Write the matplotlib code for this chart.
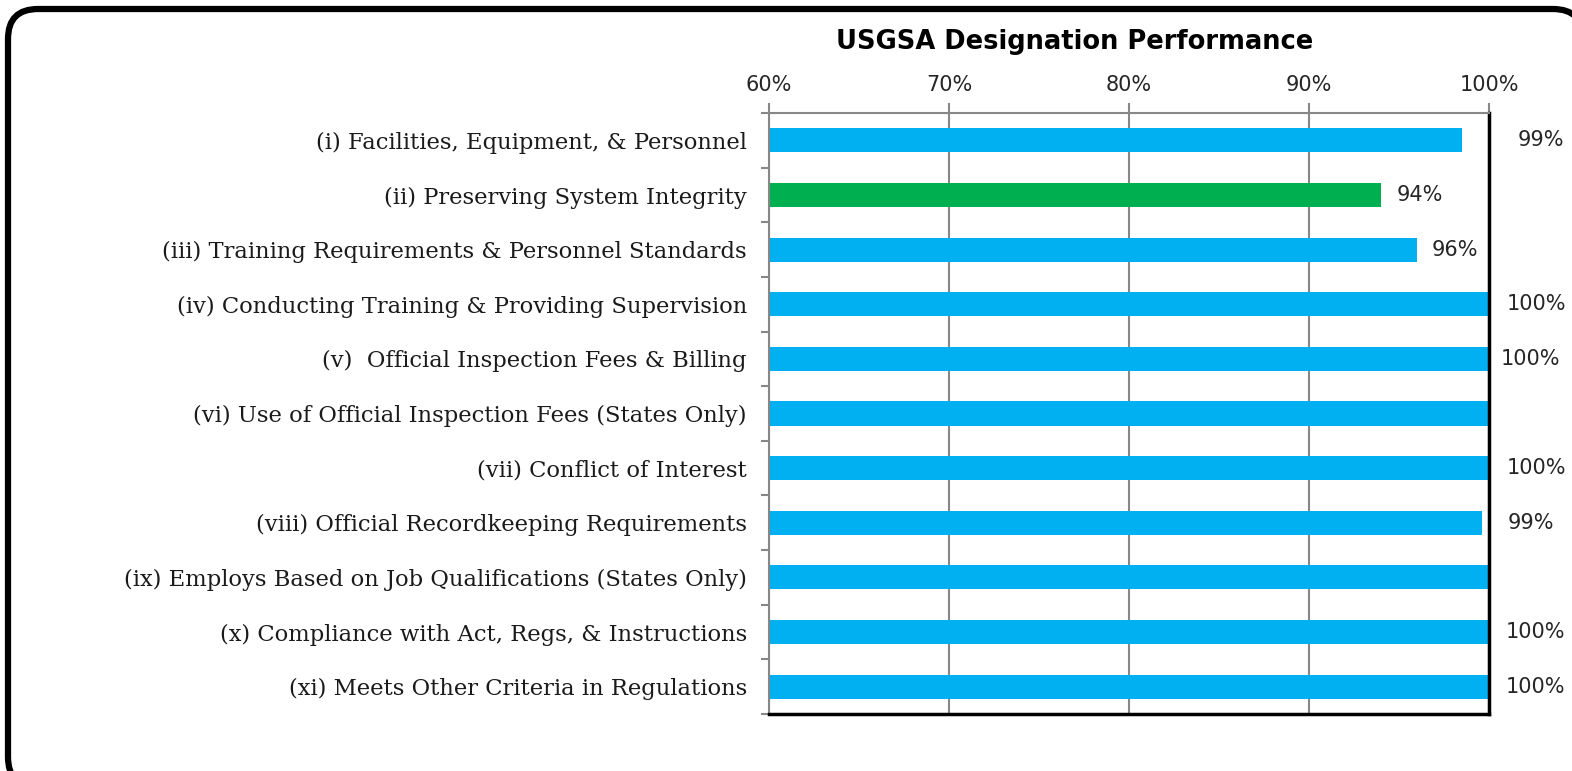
import numpy as np
import matplotlib
matplotlib.use("Agg")
import matplotlib.pyplot as plt
from matplotlib.patches import FancyBboxPatch
from matplotlib.ticker import FixedLocator, PercentFormatter

# chart data
categories = [
    "(i) Facilities, Equipment, & Personnel",
    "(ii) Preserving System Integrity",
    "(iii) Training Requirements & Personnel Standards",
    "(iv) Conducting Training & Providing Supervision",
    "(v)  Official Inspection Fees & Billing",
    "(vi) Use of Official Inspection Fees (States Only)",
    "(vii) Conflict of Interest",
    "(viii) Official Recordkeeping Requirements",
    "(ix) Employs Based on Job Qualifications (States Only)",
    "(x) Compliance with Act, Regs, & Instructions",
    "(xi) Meets Other Criteria in Regulations",
]
values = [98.5, 94.0, 96.0, 100, 100, 100, 100, 99.6, 100, 100, 100]
value_labels = ["99%", "94%", "96%", "100%", "100%", "", "100%", "99%", "", "100%", "100%"]
highlight = [False, True, False, False, False, False, False, False, False, False, False]
x_ticks = [60, 70, 80, 90, 100]

# label offsets (pixels right of bar end) - labels were hand-placed in the original
label_dx = [79, 39, 38, 47, 41, 0, 47, 49, 0, 46, 46]

blue = "#00B0F0"
green = "#00B050"
grey = "#878787"

fig = plt.figure(figsize=(15.72, 7.71), dpi=100)

# rounded frame around the chart, running off the right and bottom edge
frame = FancyBboxPatch((0.08, -0.16), 15.75, 7.78,
                       boxstyle="round,pad=0,rounding_size=0.3",
                       transform=fig.dpi_scale_trans, facecolor="white",
                       edgecolor="black", linewidth=4.5, zorder=-10)
fig.patches.append(frame)

ax = fig.add_axes([769 / 1572, 1 - 714 / 771, (1489 - 769) / 1572, (714 - 113) / 771])
ax.set_facecolor("none")

y = np.arange(len(categories))
colors = [green if h else blue for h in highlight]
ax.barh(y, values, height=0.44, left=0, color=colors, zorder=3)

ax.set_xlim(60, 100)
ax.set_ylim(len(categories) - 0.5, -0.5)

ax.xaxis.tick_top()
ax.xaxis.set_major_locator(FixedLocator(x_ticks))
ax.xaxis.set_major_formatter(PercentFormatter(decimals=0))
ax.tick_params(axis="x", which="major", direction="out", length=7, width=1.5,
               color=grey, pad=6, labelsize=15, labelcolor="#262626")
ax.grid(axis="x", color=grey, linewidth=1.5, zorder=1)

ax.set_yticks(y)
ax.set_yticklabels(categories, family="DejaVu Serif", fontsize=16.3, color="#1a1a1a")
ax.set_yticks(np.arange(-0.5, len(categories), 1), minor=True)
ax.tick_params(axis="y", which="major", length=0, pad=16)
ax.tick_params(axis="y", which="minor", direction="out", length=6, width=1.5, color=grey)

for side in ["top", "left"]:
    ax.spines[side].set_color(grey)
    ax.spines[side].set_linewidth(1.5)
for side in ["right", "bottom"]:
    ax.spines[side].set_color("black")
    ax.spines[side].set_linewidth(2.5)
for s in ax.spines.values():
    s.set_zorder(4)

for yi, v, lab, dx in zip(y, values, value_labels, label_dx):
    if lab:
        ax.annotate(lab, xy=(v, yi), xytext=(dx, 0), textcoords="offset pixels",
                    ha="center", va="center", fontsize=15, color="#262626",
                    annotation_clip=False)

fig.text(1075 / 1572, 1 - 42 / 771, "USGSA Designation Performance",
         ha="center", va="center", fontsize=18.5, fontweight="bold", color="black")

fig.savefig("out.png", dpi=100)
